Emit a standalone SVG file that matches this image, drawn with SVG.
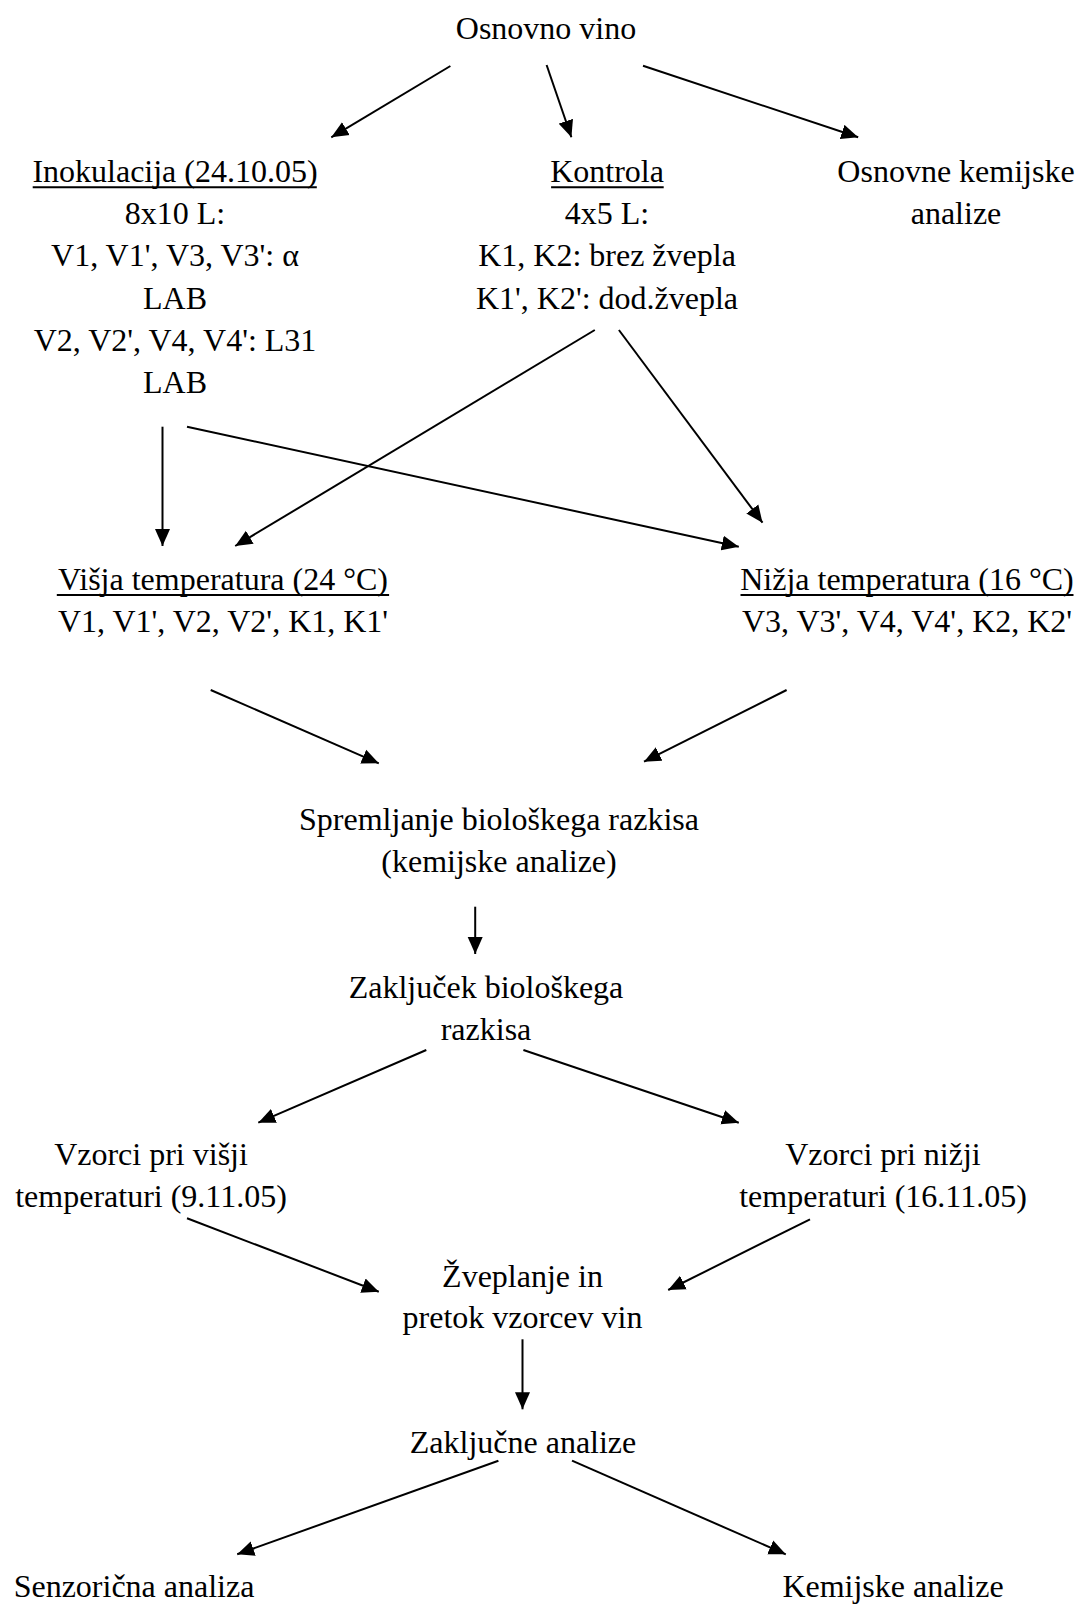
<svg xmlns="http://www.w3.org/2000/svg" width="1078" height="1605" viewBox="0 0 1078 1605">
<style>
  text { font-family: "Liberation Serif", "Times New Roman", serif; font-size: 32px; fill: #000; text-anchor: middle; }
  .ul { stroke: #000; stroke-width: 2; }
  .c line { stroke: #000; stroke-width: 2; marker-end: url(#ah); }
</style>
<defs>
  <marker id="ah" markerUnits="userSpaceOnUse" markerWidth="18" markerHeight="16" viewBox="0 0 18 16" refX="17" refY="8" orient="auto">
    <path d="M0,0.5 L17,8 L0,15.5 z" fill="#000"/>
  </marker>
</defs>
<rect width="1078" height="1605" fill="#fff"/>
<g id="n_osnovno"><text x="546" y="38.5">Osnovno vino</text></g>
<g id="n_inokulacija">
  <text x="175" y="181.7">Inokulacija (24.10.05)</text>
  <line class="ul" x1="32.7" y1="187.3" x2="316.8" y2="187.3"/>
  <text x="175" y="224">8x10 L:</text>
  <text x="175" y="266.3">V1, V1', V3, V3': α</text>
  <text x="175" y="308.6">LAB</text>
  <text x="175" y="351">V2, V2', V4, V4': L31</text>
  <text x="175" y="393.3">LAB</text>
</g>
<g id="n_kontrola">
  <text x="607" y="181.7">Kontrola</text>
  <line class="ul" x1="551.1" y1="187.3" x2="663.7" y2="187.3"/>
  <text x="607" y="224">4x5 L:</text>
  <text x="607" y="266.3">K1, K2: brez žvepla</text>
  <text x="607" y="308.6">K1', K2': dod.žvepla</text>
</g>
<g id="n_osnovne">
  <text x="956" y="181.7">Osnovne kemijske</text>
  <text x="956" y="224">analize</text>
</g>
<g id="n_visja">
  <text x="223" y="590">Višja temperatura (24 °C)</text>
  <line class="ul" x1="56.8" y1="595" x2="389.1" y2="595"/>
  <text x="223" y="632">V1, V1', V2, V2', K1, K1'</text>
</g>
<g id="n_nizja">
  <text x="907" y="590">Nižja temperatura (16 °C)</text>
  <line class="ul" x1="740.5" y1="595" x2="1073.5" y2="595"/>
  <text x="907" y="632">V3, V3', V4, V4', K2, K2'</text>
</g>
<g id="n_spremljanje">
  <text x="499" y="830">Spremljanje biološkega razkisa</text>
  <text x="499" y="872">(kemijske analize)</text>
</g>
<g id="n_zakljucek">
  <text x="486" y="998.3">Zaključek biološkega</text>
  <text x="486" y="1040">razkisa</text>
</g>
<g id="n_vzorci_visji">
  <text x="151" y="1165">Vzorci pri višji</text>
  <text x="151" y="1207">temperaturi (9.11.05)</text>
</g>
<g id="n_vzorci_nizji">
  <text x="883" y="1165">Vzorci pri nižji</text>
  <text x="883" y="1207">temperaturi (16.11.05)</text>
</g>
<g id="n_zveplanje">
  <text x="522.5" y="1286.7">Žveplanje in</text>
  <text x="522.5" y="1328">pretok vzorcev vin</text>
</g>
<g id="n_zakljucne"><text x="523" y="1453.3">Zaključne analize</text></g>
<g id="n_senzoricna"><text x="134" y="1596.7">Senzorična analiza</text></g>
<g id="n_kemijske"><text x="893" y="1596.7">Kemijske analize</text></g>
<g id="connectors" class="c">
  <line x1="450.4" y1="66" x2="331.3" y2="137.3"/>
  <line x1="546.6" y1="65" x2="571.4" y2="137.3"/>
  <line x1="643" y1="65.7" x2="858.2" y2="137.3"/>
  <line x1="594.8" y1="330" x2="235.2" y2="546"/>
  <line x1="618.9" y1="330" x2="762.5" y2="522.7"/>
  <line x1="162.5" y1="426.7" x2="162.5" y2="546"/>
  <line x1="187" y1="426.7" x2="738.8" y2="546.7"/>
  <line x1="210.7" y1="690" x2="378.8" y2="763.3"/>
  <line x1="786.6" y1="690" x2="644" y2="761.7"/>
  <line x1="475.2" y1="906.7" x2="475.2" y2="954"/>
  <line x1="426.3" y1="1050" x2="258.3" y2="1122.7"/>
  <line x1="523.4" y1="1050" x2="738.8" y2="1122.7"/>
  <line x1="187" y1="1218.3" x2="378.8" y2="1291.7"/>
  <line x1="810" y1="1219.3" x2="668.2" y2="1290"/>
  <line x1="522.5" y1="1339.3" x2="522.5" y2="1409.3"/>
  <line x1="498.4" y1="1460.7" x2="237.2" y2="1554.3"/>
  <line x1="572" y1="1460.7" x2="785.8" y2="1554.3"/>
</g>
</svg>
